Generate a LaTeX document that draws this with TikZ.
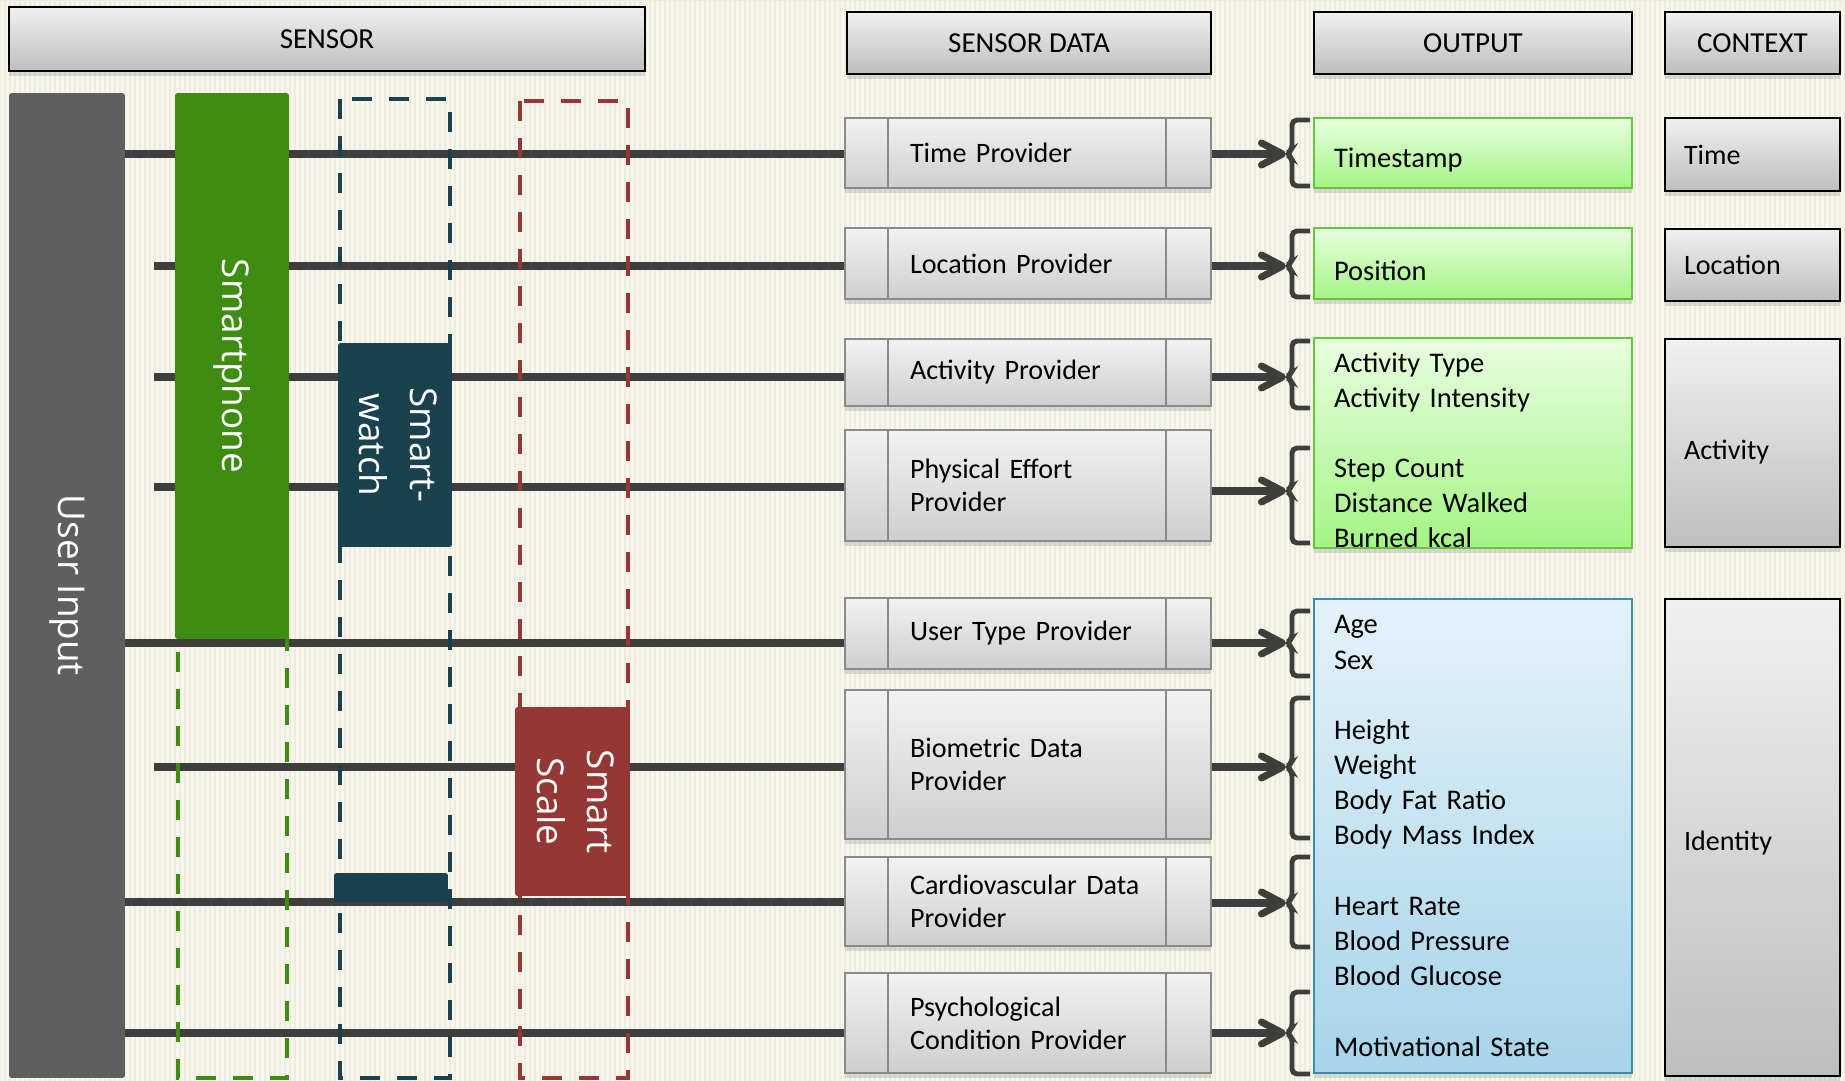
\documentclass[tikz,border=0pt]{standalone}
\usepackage{fontspec}
\setmainfont{Carlito}
\newfontfamily\devfont{Open Sans}
\definecolor{PaperCream}{RGB}{247,246,237}
\definecolor{PaperStripe}{RGB}{237,236,223}
\definecolor{LineGrey}{RGB}{62,62,60}
\definecolor{InputGrey}{RGB}{95,95,95}
\definecolor{PhoneGreen}{RGB}{62,140,18}
\definecolor{WatchBlue}{RGB}{26,65,80}
\definecolor{ScaleRed}{RGB}{149,55,53}
\definecolor{HeadTop}{RGB}{240,240,240}
\definecolor{HeadBottom}{RGB}{190,190,190}
\definecolor{ProvTop}{RGB}{242,242,242}
\definecolor{ProvBottom}{RGB}{206,206,206}
\definecolor{ProvEdge}{RGB}{138,138,138}
\definecolor{OutGreenTop}{RGB}{232,255,224}
\definecolor{OutGreenBottom}{RGB}{164,244,132}
\definecolor{OutGreenEdge}{RGB}{98,200,58}
\definecolor{OutBlueTop}{RGB}{228,242,250}
\definecolor{OutBlueBottom}{RGB}{166,212,233}
\definecolor{OutBlueEdge}{RGB}{60,140,175}
\usetikzlibrary{arrows.meta,backgrounds,shadows}
\tikzset{
  boxshadow/.style={drop shadow={shadow xshift=0pt,shadow yshift=-0.1cm,opacity=0.25}},
  firstline/.style={execute at begin node={\rule{0pt}{#1}}},
  hdr/.style={draw=black,line width=1.2pt,top color=HeadTop,bottom color=HeadBottom,
    font=\fontsize{16.5}{19}\selectfont,boxshadow},
  ctx/.style={hdr,font=\fontsize{16}{19}\selectfont,minimum width=3.5cm,inner xsep=0.38cm,inner ysep=0pt,
    text width=2.74cm,align=left},
  prov/.style={draw=ProvEdge,line width=1.2pt,top color=ProvTop,bottom color=ProvBottom,
    minimum width=7.32cm,inner xsep=1.3cm,text width=4.72cm,align=left,
    font=\fontsize{16}{18.8}\selectfont,boxshadow,
    path picture={
      \draw[ProvEdge,line width=1.2pt]
        ([xshift=0.86cm]path picture bounding box.north west) -- ([xshift=0.86cm]path picture bounding box.south west)
        ([xshift=-0.9cm]path picture bounding box.north east) -- ([xshift=-0.9cm]path picture bounding box.south east);}},
  outbox/.style={line width=1.5pt,minimum width=6.36cm,inner xsep=0.4cm,inner ysep=0pt,
    text width=5.56cm,align=left,font=\fontsize{16.2}{20}\selectfont,boxshadow},
  outgreen/.style={outbox,draw=OutGreenEdge,top color=OutGreenTop,bottom color=OutGreenBottom,firstline=0.68cm},
  outblue/.style={outbox,draw=OutBlueEdge,top color=OutBlueTop,bottom color=OutBlueBottom},
  device/.style={inner sep=0pt,rounded corners=1.5pt,text=white,font=\devfont\fontsize{21}{28.5}\selectfont},
  devframe/.style={line width=2pt,dash pattern=on 0.4cm off 0.34cm},
  feed/.style={draw=LineGrey,line width=4pt},
  flow/.style={feed,-{Straight Barb[length=0.42cm,width=0.44cm,line cap=round,line join=round]}},
  outbrace/.style={draw=LineGrey,line width=2.8pt,rounded corners=0.1cm}
}

\begin{document}
\begin{tikzpicture}[x=0.02cm,y=-0.02cm]
        \useasboundingbox (0,0) rectangle (1845,1081);
        % column heads
        \node[hdr,minimum width=12.72cm,minimum height=1.28cm] at (327,39) (hsensor) {SENSOR};
        \node[hdr,minimum width=7.28cm,minimum height=1.24cm] at (1029,43) (hdata) {SENSOR DATA};
        \node[hdr,minimum width=6.36cm,minimum height=1.24cm] at (1473,43) (hout) {OUTPUT};
        \node[hdr,minimum width=3.5cm,minimum height=1.24cm] at (1752.5,43) (hctx) {CONTEXT};
        % sensor data providers
        \node[prov,minimum height=1.4cm] at (1028,153) (time) {Time Provider};
        \node[prov,minimum height=1.42cm] at (1028,263.5) (loc) {Location Provider};
        \node[prov,minimum height=1.34cm] at (1028,372.5) (act) {Activity Provider};
        \node[prov,minimum height=2.22cm] at (1028,485.5) (phys) {Physical Effort\\Provider};
        \node[prov,minimum height=1.42cm] at (1028,633.5) (utype) {User Type Provider};
        \node[prov,minimum height=2.98cm] at (1028,764.5) (bio) {Biometric Data\\Provider};
        \node[prov,minimum height=1.78cm] at (1028,901.5) (cardio) {Cardiovascular Data\\Provider};
        \node[prov,minimum height=2.0cm] at (1028,1023) (psych) {Psychological\\Condition Provider};
        % outputs
        \node[outgreen,minimum height=1.4cm] at (1473,153) (tsout) {Timestamp};
        \node[outgreen,minimum height=1.42cm] at (1473,263.5) (posout) {Position};
        \node[outgreen,minimum height=4.16cm] at (1473,443) (actout) {Activity Type\\Activity Intensity\\[20pt]Step Count\\Distance Walked\\Burned kcal};
        \node[outblue,minimum height=9.48cm] at (1473,836) (idout) {Age\\Sex\\[20.1pt]Height\\Weight\\Body Fat Ratio\\Body Mass Index\\[20.1pt]Heart Rate\\Blood Pressure\\Blood Glucose\\[20.1pt]Motivational State};
        % context
        \node[ctx,minimum height=1.46cm] at (1752.5,154.5) (ctime) {Time};
        \node[ctx,minimum height=1.44cm] at (1752.5,265) (cloc) {Location};
        \node[ctx,firstline=0.76cm,minimum height=4.16cm] at (1752.5,443) (cact) {Activity};
        \node[ctx,firstline=0.6cm,minimum height=9.54cm] at (1752.5,837.5) (cid) {Identity};
        % sensor devices
        \draw[PhoneGreen,devframe] (178,97) rectangle (287,1078);
        \draw[WatchBlue,devframe] (340,99) rectangle (450,1078);
        \draw[ScaleRed,devframe] (520,101) rectangle (628,1078);
        \node[device,fill=InputGrey,minimum width=2.32cm,minimum height=19.7cm] at (67,585.5) (userin) {\rotatebox{-90}{User Input}};
        \node[device,fill=PhoneGreen,minimum width=2.28cm,minimum height=10.92cm] at (232,366) (phone) {\rotatebox{-90}{Smartphone}};
        \node[device,fill=WatchBlue,minimum width=2.28cm,minimum height=4.08cm] at (395,445) (watch) {\rotatebox{-90}{\begin{tabular}{@{}c@{}}Smart-\\watch\end{tabular}}};
        \node[device,fill=WatchBlue,minimum width=2.28cm,minimum height=0.58cm] at (391,887.5) (watchbar) {};
        \node[device,fill=ScaleRed,minimum width=2.3cm,minimum height=3.78cm] at (572.5,801.5) (scale) {\rotatebox{-90}{\begin{tabular}{@{}c@{}}Smart\\Scale\end{tabular}}};
        \coordinate (r1) at (154,154);
        \coordinate (r2) at (154,266);
        \coordinate (r3) at (154,377);
        \coordinate (r4) at (154,487);
        \coordinate (r5) at (154,643);
        \coordinate (r6) at (154,767);
        \coordinate (r7) at (154,902);
        \coordinate (r8) at (154,1033);
        \begin{scope}[on background layer]
            \fill[PaperCream] (0,0) rectangle (1845,1081);
            \draw[PaperStripe,line width=0.04cm,xstep=0.1cm,ystep=40cm] (0,1081) grid (1845,1);
            \draw[feed] (userin.east |- r1) -- (time.west |- r1);
            \draw[feed] (r2) -- (loc.west |- r2);
            \draw[feed] (r3) -- (act.west |- r3);
            \draw[feed] (r4) -- (phys.west |- r4);
            \draw[feed] (userin.east |- r5) -- (utype.west |- r5);
            \draw[feed] (r6) -- (bio.west |- r6);
            \draw[feed] (userin.east |- r7) -- (cardio.west |- r7);
            \draw[feed] (userin.east |- r8) -- (psych.west |- r8);
        \end{scope}
        % brackets in front of the outputs
        \foreach \i/\t/\m/\b in {1/120/154/186,2/231/266/297,3/341/377/408,4/448/491/543,5/611/643/676,6/698/767/838,7/857/903/947,8/992/1033/1074}{
            \coordinate (b\i) at (1286,\m);
            \draw[outbrace] (1310,\t) -- (1292,\t) -- (1292,\m-4) -- (b\i) -- (1292,\m+4) -- (1292,\b) -- (1310,\b);
        }
        \draw[flow] (time.east |- b1) -- (b1);
        \draw[flow] (loc.east |- b2) -- (b2);
        \draw[flow] (act.east |- b3) -- (b3);
        \draw[flow] (phys.east |- b4) -- (b4);
        \draw[flow] (utype.east |- b5) -- (b5);
        \draw[flow] (bio.east |- b6) -- (b6);
        \draw[flow] (cardio.east |- b7) -- (b7);
        \draw[flow] (psych.east |- b8) -- (b8);
    \end{tikzpicture}
\end{document}
